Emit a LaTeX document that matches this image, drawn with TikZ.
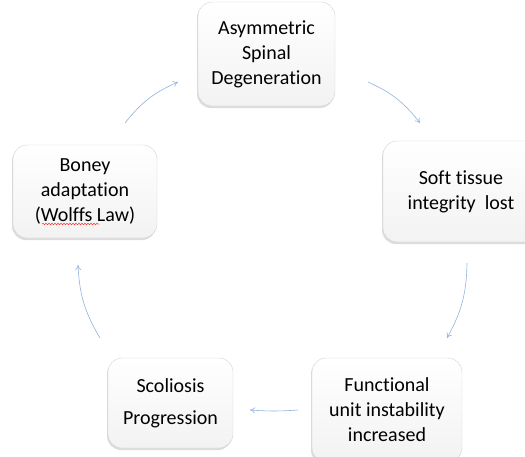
\documentclass[tikz,border=0pt]{standalone}
\usepackage{fontspec}
\setmainfont[Ligatures={CommonOff}]{Carlito}
\usetikzlibrary{arrows.meta,shadows,decorations.pathmorphing}
\definecolor{linkblue}{RGB}{146,178,222}
\begin{document}
\begin{tikzpicture}[x=1pt,y=-1pt,
        box/.style={draw=gray!35,rounded corners=14pt,top color=white,bottom color=gray!10,
            drop shadow={shadow xshift=-1pt,shadow yshift=-2pt,fill=gray!60,opacity=.45},
            align=center,text=black,font=\fontsize{20}{25}\selectfont,inner sep=2pt},
        link/.style={draw=linkblue,line width=0.6pt,-{To[length=5pt,width=6pt]},bend left=14}]
    \useasboundingbox (0,0) rectangle (525,456);
    % boxes
    \node[box,minimum width=137pt,minimum height=104pt] (asym) at (266.5,54) {Asymmetric\\Spinal\\Degeneration};
    \node[box,minimum width=156pt,minimum height=101pt] (soft) at (461,191.5) {Soft tissue\\integrity\ \ lost};
    \node[box,minimum width=150pt,minimum height=104pt] (func) at (387,410) {Functional\\unit instability\\increased};
    \node[box,minimum width=125pt,minimum height=90pt] (scol) at (170.5,403) {Scoliosis\\[7pt]Progression};
    \node[box,minimum width=144pt,minimum height=93pt] (bone) at (85,191.5) {Boney\\adaptation\\(Wolffs Law)};
    % arrow ends
    \coordinate (a1) at (125,123); \coordinate (b1) at (178,82);
    \coordinate (a2) at (368,82);  \coordinate (b2) at (420,123);
    \coordinate (a3) at (467,263); \coordinate (b3) at (447,338);
    \coordinate (a4) at (298,410); \coordinate (b4) at (250,410);
    \coordinate (a5) at (100,338); \coordinate (b5) at (78,265);
    \draw[link] (a1) to (b1);
    \draw[link] (a2) to (b2);
    \draw[link] (a3) to (b3);
    \draw[link,bend left=4] (a4) to (b4);
    \draw[link] (a5) to (b5);
    % spell-check squiggle
    \coordinate (w1) at (42,224); \coordinate (w2) at (99,224);
    \draw[red!80,line width=0.5pt,decorate,decoration={snake,amplitude=0.8pt,segment length=3pt}] (w1) -- (w2);
\end{tikzpicture}
\end{document}
